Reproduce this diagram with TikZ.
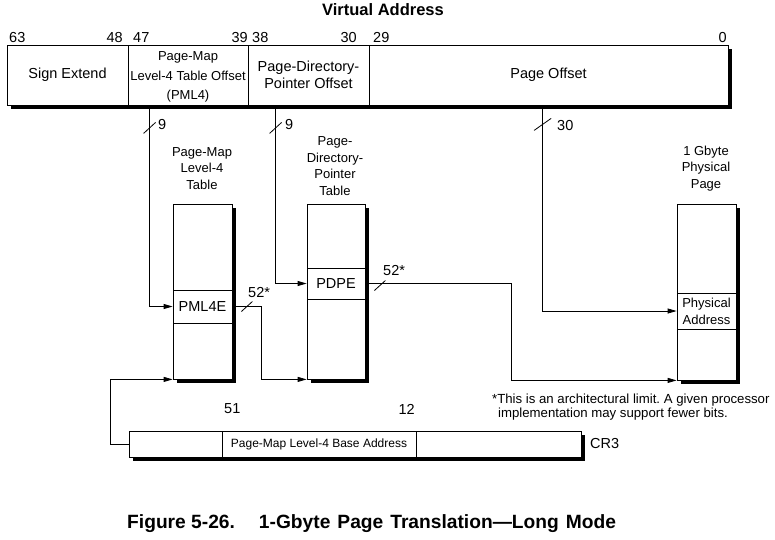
\documentclass[tikz,border=0pt]{standalone}
\usepackage{fontspec}
\setmainfont{Liberation Sans}
\usetikzlibrary{arrows.meta,shadows}
\frenchspacing
\begin{document}
\begin{tikzpicture}[x=1pt,y=-1pt,
  shad/.style={drop shadow={shadow xshift=4pt,shadow yshift=-4pt,opacity=1,fill=black}},
  fld/.style={draw,fill=white,line width=0.8pt,inner sep=0pt,align=center,minimum height=60pt,
    font=\fontsize{14.5}{17}\selectfont,shad},
  tbl/.style={draw,fill=white,line width=0.8pt,inner sep=0pt,minimum height=175pt,shad},
  entry/.style={draw,line width=0.8pt,inner sep=0pt,align=center,font=\fontsize{14.5}{17}\selectfont},
  reg/.style={draw,fill=white,line width=0.8pt,inner sep=0pt,minimum height=26pt,shad},
  num/.style={inner sep=0pt,font=\fontsize{14.5}{17}\selectfont},
  lbl/.style={inner sep=0pt,align=center,font=\fontsize{13}{16.5}\selectfont},
  small/.style={inner sep=0pt,font=\fontsize{13.2}{15}\selectfont},
  conn/.style={line width=0.8pt,-{Triangle[length=9pt,width=5pt]}},
  slash/.style={line width=0.8pt}]
\useasboundingbox (0,0) rectangle (775,539);

% title
\node[inner sep=0pt,font=\bfseries\fontsize{16.5}{20}\selectfont] (title) at (383,10) {Virtual Address};

% virtual address fields
\node[fld,minimum width=121pt] (sign) at (67.5,75) {Sign Extend};
\node[fld,minimum width=120pt] (pml4f) at (188,75) {};
\node[lbl,font=\fontsize{13}{19.5}\selectfont] (pml4txt) at (188,77) {Page-Map\\Level-4 Table Offset\\(PML4)};
\node[fld,minimum width=121pt] (pdpf) at (308.5,75) {Page-Directory-\\Pointer Offset};
\node[fld,minimum width=359pt] (offf) at (548.5,75) {Page Offset};

% bit numbers
\node[num,anchor=west] (b63) at (9,37.5) {63};
\node[num,anchor=east] (b48) at (123,37.5) {48};
\node[num,anchor=west] (b47) at (133,37.5) {47};
\node[num,anchor=east] (b39) at (248,37.5) {39};
\node[num,anchor=west] (b38) at (252,37.5) {38};
\node[num,anchor=east] (b30) at (357,37.5) {30};
\node[num,anchor=west] (b29) at (373,37.5) {29};
\node[num,anchor=east] (b0) at (727,37.5) {0};

% tables
\node[lbl] (pml4lbl) at (202,168.5) {Page-Map\\Level-4\\Table};
\node[tbl,minimum width=59pt] (pml4t) at (202.5,291.5) {};
\node[entry,minimum width=59pt,minimum height=33pt] (pml4e) at (202.5,306.5) {PML4E};

\node[lbl] (pdptlbl) at (335,166) {Page-\\Directory-\\Pointer\\Table};
\node[tbl,minimum width=58pt] (pdpt) at (336,291.5) {};
\node[entry,minimum width=58pt,minimum height=31pt] (pdpe) at (336,283.5) {PDPE};

\node[lbl] (physlbl) at (706,168.5) {1 Gbyte\\Physical\\Page};
\node[tbl,minimum width=59pt,minimum height=176pt] (phys) at (706.5,292) {};
\node[entry,minimum width=59pt,minimum height=36pt,font=\fontsize{13}{17}\selectfont] (physe) at (706.5,311) {Physical\\Address};

% CR3
\node[reg,minimum width=93pt] (cr3) at (175.5,444) {};
\node[reg,minimum width=194pt,font=\fontsize{12}{14}\selectfont] (cr3b) at (319,444) {Page-Map Level-4 Base Address};
\node[reg,minimum width=165pt] (cr3c) at (498.5,444) {};
\node[num,anchor=west] (b51) at (224,409) {51};
\node[num,anchor=east] (b12) at (415,409) {12};
\node[num,anchor=west] (cr3lbl) at (590,443) {CR3};

% connectors
\draw[conn] ([xshift=22pt]pml4f.south west) coordinate (c1) |- (pml4e.west);
\draw[conn] ([xshift=28pt]pdpf.south west) coordinate (c2) |- (pdpe.west);
\draw[conn] ([xshift=174pt]offf.south west) coordinate (c3) |- (physe.west);
\draw[conn] (pml4e.east) -- ++(29,0) coordinate (c4) |- (pdpt.south west);
\draw[conn] (pdpe.east) -- ++(146,0) coordinate (c5) |- (phys.south west);
\draw[conn] (cr3.west) -- ++(-18,0) |- (pml4t.south west);

% width marks
\draw[slash] ([shift={(-6,28)}]c1) -- ++(12,-11);
\node[num,anchor=west] (w1) at (158,125) {9};
\draw[slash] ([shift={(-6,28)}]c2) -- ++(12,-11);
\node[num,anchor=west] (w2) at (285,125) {9};
\draw[slash] ([shift={(-8.5,25)}]c3) -- ++(17,-12);
\node[num,anchor=west] (w3) at (557,126) {30};
\draw[slash] ([shift={(-20,5)}]c4) -- ++(11,-10);
\node[num,anchor=west] (w4) at (248,292) {52*};
\draw[slash] ([shift={(-137,7)}]c5) -- ++(11,-10);
\node[num,anchor=west] (w5) at (383,270) {52*};

% footnote
\node[small,anchor=base west] (note1) at (492,403.5) {*This is an architectural limit. A given processor};
\node[small,anchor=base west] (note2) at (498,417.5) {implementation may support fewer bits.};

% caption
\node[inner sep=0pt,anchor=base west,font=\bfseries\fontsize{19.2}{22}\selectfont] (caption) at (127,528) {Figure 5-26.\hspace{24pt}1-Gbyte\hspace{7pt}Page\hspace{7pt}Translation---Long\hspace{7pt}Mode};
\end{tikzpicture}
\end{document}
